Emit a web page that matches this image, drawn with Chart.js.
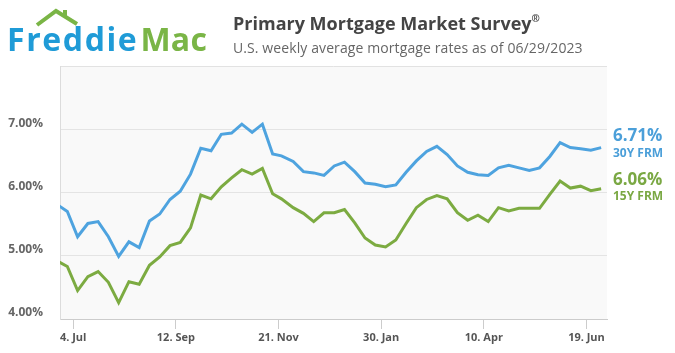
<!DOCTYPE html>
<html>
<head>
<meta charset="utf-8">
<script src="https://cdn.jsdelivr.net/npm/chart.js@4.4.0/dist/chart.umd.min.js"></script>
<style>
html,body{margin:0;padding:0;background:#fff;width:675px;height:353px;overflow:hidden;}
#wrap{position:relative;width:675px;height:353px;}
#c{position:absolute;left:0;top:0;}
.t{position:absolute;white-space:nowrap;line-height:1;}
#logo{left:7px;top:23px;font-family:"Open Sans",sans-serif;font-weight:700;font-size:32px;}
#logo .f{color:#1f9bd7;letter-spacing:1.6px;}
#logo .m{color:#7ab546;margin-left:2px;letter-spacing:0.3px;}
#roof{position:absolute;left:0;top:0;}
#title{left:233px;top:14px;font-family:"Open Sans",sans-serif;font-weight:700;font-size:18px;color:#444;}
#title sup{font-size:10px;vertical-align:top;position:relative;top:-1px;}
#sub{left:233px;top:41px;font-family:"Open Sans",sans-serif;font-weight:400;font-size:14px;letter-spacing:0.1px;color:#666;}
</style>
</head>
<body>
<div id="wrap">
  <canvas id="c" width="675" height="353"></canvas>
  <svg id="roof" width="120" height="40">
    <polyline points="37,25 56,11 77,24" fill="none" stroke="#7ab546" stroke-width="4" stroke-linejoin="miter"/>
    <rect x="63" y="10" width="4" height="7" fill="#7ab546"/>
  </svg>
  <div class="t" id="logo"><span class="f">Freddie</span><span class="m">Mac</span></div>
  <div class="t" id="title">Primary Mortgage Market Survey<sup>®</sup></div>
  <div class="t" id="sub">U.S. weekly average mortgage rates as of 06/29/2023</div>
</div>
<script>
// ---- data ----
const weekDates = [
  '2022-06-23','2022-06-30','2022-07-07','2022-07-14','2022-07-21','2022-07-28',
  '2022-08-04','2022-08-11','2022-08-18','2022-08-25','2022-09-01','2022-09-08',
  '2022-09-15','2022-09-22','2022-09-29','2022-10-06','2022-10-13','2022-10-20',
  '2022-10-27','2022-11-03','2022-11-10','2022-11-17','2022-11-23','2022-12-01',
  '2022-12-08','2022-12-15','2022-12-22','2022-12-29','2023-01-05','2023-01-12',
  '2023-01-19','2023-01-26','2023-02-02','2023-02-09','2023-02-16','2023-02-23',
  '2023-03-02','2023-03-09','2023-03-16','2023-03-23','2023-03-30','2023-04-06',
  '2023-04-13','2023-04-20','2023-04-27','2023-05-04','2023-05-11','2023-05-18',
  '2023-05-25','2023-06-01','2023-06-08','2023-06-15','2023-06-22','2023-06-29'
];
const rate30 = [
  5.81,5.70,5.30,5.51,5.54,5.30,
  4.99,5.22,5.13,5.55,5.66,5.89,
  6.02,6.29,6.70,6.66,6.92,6.94,
  7.08,6.95,7.08,6.61,6.58,6.49,
  6.33,6.31,6.27,6.42,6.48,6.33,
  6.15,6.13,6.09,6.12,6.32,6.50,
  6.65,6.73,6.60,6.42,6.32,6.28,
  6.27,6.39,6.43,6.39,6.35,6.39,
  6.57,6.79,6.71,6.69,6.67,6.71
];
const rate15 = [
  4.92,4.83,4.45,4.67,4.75,4.58,
  4.26,4.59,4.55,4.85,4.98,5.16,
  5.21,5.44,5.96,5.90,6.09,6.23,
  6.36,6.29,6.38,5.98,5.90,5.76,
  5.67,5.54,5.68,5.68,5.73,5.52,
  5.28,5.17,5.14,5.25,5.51,5.76,
  5.89,5.95,5.90,5.68,5.56,5.64,
  5.54,5.76,5.71,5.75,5.75,5.75,
  5.97,6.18,6.07,6.10,6.03,6.06
];
const seriesNames = ['30Y FRM','15Y FRM'];
const tickDates = ['2022-07-04','2022-09-12','2022-11-21','2023-01-30','2023-04-10','2023-06-19'];
const tickLabels = ['4. Jul','12. Sep','21. Nov','30. Jan','10. Apr','19. Jun'];
const yTicks = [4,5,6,7];
const axisStart = '2022-06-25';
const axisEnd = '2023-07-03';

// ---- helpers ----
const DAY = 86400000;
const t0 = Date.parse(weekDates[0]);
const dayOf = s => (Date.parse(s) - t0) / DAY;
const toPoints = arr => arr.map((v, i) => ({x: dayOf(weekDates[i]), y: v}));

const colors = ['#4ea3df', '#7cab41'];
const labelColors = ['#4b9fd9', '#7aa843'];
const labelDy = [[-11, 6], [-9, 7.5]];

const bgPlugin = {
  id: 'bg',
  beforeDraw(chart) {
    const {ctx, chartArea: a} = chart;
    ctx.save();
    ctx.fillStyle = '#f9f9f9';
    ctx.fillRect(a.left, a.top, a.right - a.left, a.bottom - a.top);
    ctx.strokeStyle = '#e2e2e2';
    ctx.lineWidth = 1;
    ctx.beginPath();
    ctx.moveTo(a.left, a.top + 0.5);
    ctx.lineTo(a.right, a.top + 0.5);
    ctx.stroke();
    ctx.restore();
  }
};

const endLabels = {
  id: 'endLabels',
  afterDatasetsDraw(chart) {
    const {ctx, chartArea: a, scales: {y}} = chart;
    ctx.save();
    chart.data.datasets.forEach((ds, i) => {
      const last = ds.data[ds.data.length - 1].y;
      const py = y.getPixelForValue(last);
      ctx.fillStyle = labelColors[i];
      ctx.textAlign = 'left';
      ctx.textBaseline = 'middle';
      ctx.font = 'bold 17px "Open Sans"';
      ctx.fillText(last.toFixed(2) + '%', a.right + 6, py + labelDy[i][0]);
      ctx.font = 'bold 12px "Open Sans"';
      ctx.fillText(seriesNames[i], a.right + 6, py + labelDy[i][1]);
    });
    ctx.restore();
  }
};

new Chart(document.getElementById('c'), {
  type: 'line',
  data: {
    datasets: [
      {label: seriesNames[0], data: toPoints(rate30), borderColor: colors[0], borderWidth: 3, pointRadius: 0, tension: 0, fill: false},
      {label: seriesNames[1], data: toPoints(rate15), borderColor: colors[1], borderWidth: 3, pointRadius: 0, tension: 0, fill: false}
    ]
  },
  options: {
    responsive: false,
    animation: false,
    events: [],
    layout: {padding: {left: 0, top: 66, right: 68, bottom: 0}},
    plugins: {legend: {display: false}, tooltip: {enabled: false}, title: {display: false}},
    scales: {
      x: {
        type: 'linear',
        min: dayOf(axisStart),
        max: dayOf(axisEnd),
        afterBuildTicks: s => { s.ticks = tickDates.map(d => ({value: dayOf(d)})); },
        afterFit: s => { s.height = 34; },
        ticks: {
          autoSkip: false, maxRotation: 0, padding: 2,
          color: '#555',
          font: {family: 'Open Sans', size: 11, weight: 'bold'},
          callback: (v, i) => tickLabels[i]
        },
        grid: {drawOnChartArea: false, drawTicks: true, tickLength: 10, color: '#cccccc', tickColor: '#cccccc'},
        border: {display: true, color: '#cccccc'}
      },
      y: {
        min: 4, max: 8,
        afterBuildTicks: s => { s.ticks = yTicks.map(v => ({value: v})); },
        afterFit: s => { s.width = 60; },
        ticks: {
          padding: 17, labelOffset: -6,
          color: '#666',
          font: {family: 'Open Sans', size: 12, weight: 'bold'},
          callback: v => v.toFixed(2) + '%'
        },
        grid: {drawTicks: false, color: '#e4e4e4'},
        border: {display: true, color: '#dcdcdc'}
      }
    }
  },
  plugins: [bgPlugin, endLabels]
});
</script>
</body>
</html>
